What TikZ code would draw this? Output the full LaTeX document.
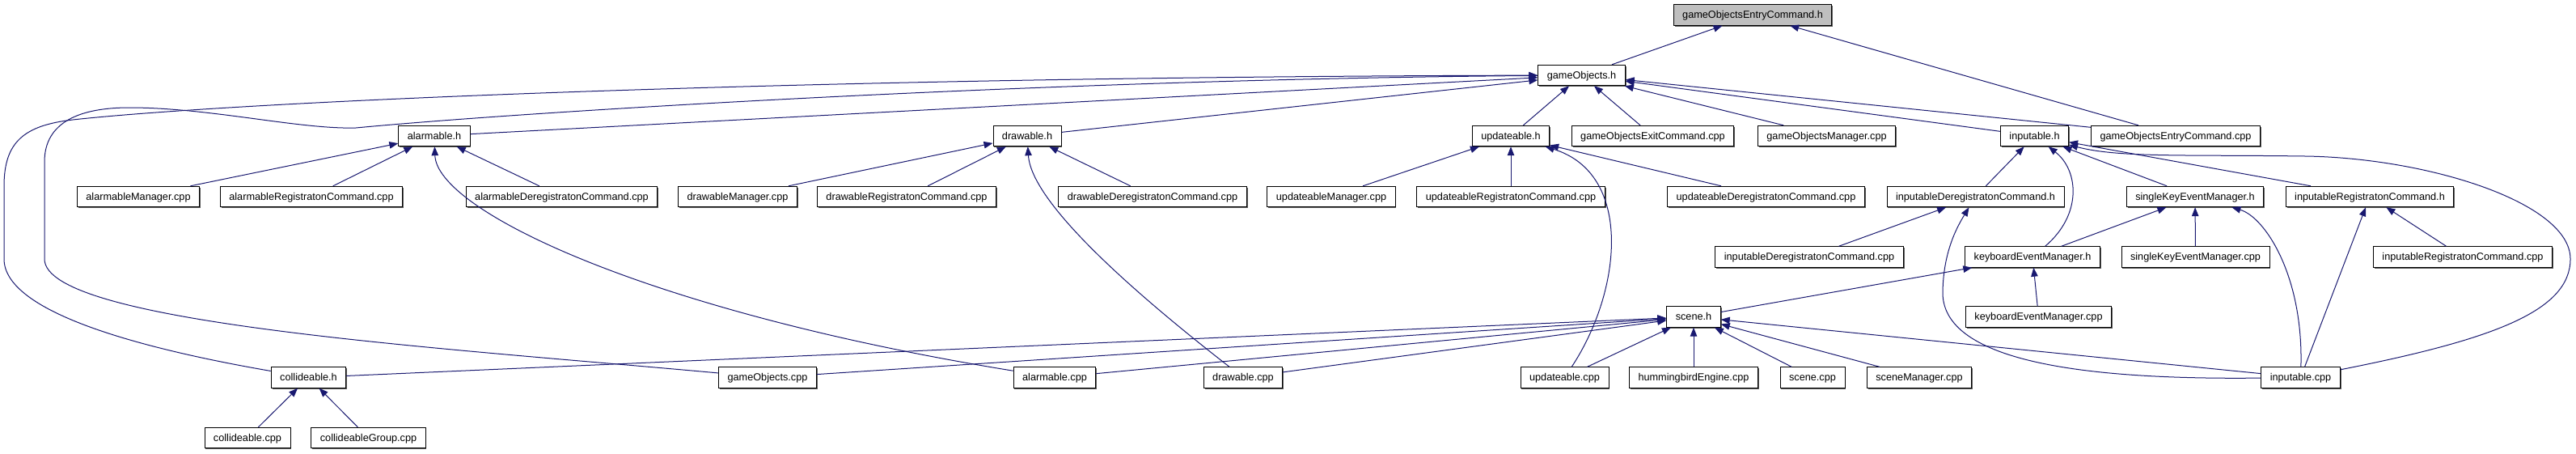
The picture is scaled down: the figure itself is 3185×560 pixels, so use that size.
\documentclass[tikz,border=0pt]{standalone}
\usepackage{fontspec}
\setmainfont{Liberation Sans}
\usepackage{tikz}
\usetikzlibrary{positioning, arrows.meta, shadows}
\definecolor{edgeblue}{RGB}{25,25,112}
\definecolor{rootgray}{RGB}{191,191,191}

\begin{document}
\begin{tikzpicture}[
            x=1pt, y=-1pt,
            file/.style={rectangle, draw=black, fill=white, line width=0.9pt, minimum height=25.5pt, inner xsep=11pt, inner ysep=0pt, text height=9pt, text depth=0.5pt, font=\fontsize{12.7}{15}\selectfont, drop shadow={shadow xshift=1.3pt, shadow yshift=-1.3pt, fill=black!65, opacity=1}},
            root/.style={file, fill=rootgray},
            edge/.style={draw=edgeblue, line width=1pt, -{Triangle[length=11pt, width=8.5pt]}}
        ]
        \useasboundingbox (0,0) rectangle (3185,560);
        % Root file
        \node[root] (goEntryH) at (2167,18.5) {gameObjectsEntryCommand.h};
        % Level 1
        \node[file] (goH) at (1955.5,93) {gameObjects.h};
        % Level 2
        \node[file] (alarmH) at (537,168) {alarmable.h};
        \node[file] (drawH) at (1270,168) {drawable.h};
        \node[file] (updH) at (1868,168) {updateable.h};
        \node[file] (goExitCpp) at (2043.5,168) {gameObjectsExitCommand.cpp};
        \node[file] (goMgrCpp) at (2258.5,168) {gameObjectsManager.cpp};
        \node[file] (inpH) at (2515.5,168) {inputable.h};
        \node[file] (goEntryCpp) at (2690,168) {gameObjectsEntryCommand.cpp};
        % Level 3
        \node[file] (alarmMgrCpp) at (171,243) {alarmableManager.cpp};
        \node[file] (alarmRegCpp) at (385,243) {alarmableRegistratonCommand.cpp};
        \node[file] (alarmDeregCpp) at (694.5,243) {alarmableDeregistratonCommand.cpp};
        \node[file] (drawMgrCpp) at (912,243) {drawableManager.cpp};
        \node[file] (drawRegCpp) at (1121,243) {drawableRegistratonCommand.cpp};
        \node[file] (drawDeregCpp) at (1425,243) {drawableDeregistratonCommand.cpp};
        \node[file] (updMgrCpp) at (1646,243) {updateableManager.cpp};
        \node[file] (updRegCpp) at (1868,243) {updateableRegistratonCommand.cpp};
        \node[file] (updDeregCpp) at (2183.5,243) {updateableDeregistratonCommand.cpp};
        \node[file] (inpDeregH) at (2442.5,243) {inputableDeregistratonCommand.h};
        \node[file] (skemH) at (2714,243) {singleKeyEventManager.h};
        \node[file] (inpRegH) at (2930,243) {inputableRegistratonCommand.h};
        % Level 4
        \node[file] (inpDeregCpp) at (2237,317.5) {inputableDeregistratonCommand.cpp};
        \node[file] (kemH) at (2513,317.5) {keyboardEventManager.h};
        \node[file] (skemCpp) at (2714.5,317.5) {singleKeyEventManager.cpp};
        \node[file] (inpRegCpp) at (3045,317.5) {inputableRegistratonCommand.cpp};
        % Level 5
        \node[file] (sceneH) at (2094,391.5) {scene.h};
        \node[file] (kemCpp) at (2520.5,391.5) {keyboardEventManager.cpp};
        % Level 6
        \node[file] (collH) at (381.5,466.5) {collideable.h};
        \node[file] (goCpp) at (949,466.5) {gameObjects.cpp};
        \node[file] (alarmCpp) at (1304,466.5) {alarmable.cpp};
        \node[file] (drawCpp) at (1537,466.5) {drawable.cpp};
        \node[file] (updCpp) at (1934.5,466.5) {updateable.cpp};
        \node[file] (hbeCpp) at (2094,466.5) {hummingbirdEngine.cpp};
        \node[file] (sceneCpp) at (2241,466.5) {scene.cpp};
        \node[file] (sceneMgrCpp) at (2373,466.5) {sceneManager.cpp};
        \node[file] (inpCpp) at (2844.5,466.5) {inputable.cpp};
        % Level 7
        \node[file] (collCpp) at (306,541) {collideable.cpp};
        \node[file] (collGrpCpp) at (455.5,541) {collideableGroup.cpp};
        % Includes of gameObjectsEntryCommand.h
        \draw[edge] (goH) -- (goEntryH);
        \draw[edge] (goEntryCpp) -- (goEntryH);
        % Includes of gameObjects.h
        \draw[edge] (alarmH) -- (goH);
        \draw[edge] (drawH) -- (goH);
        \draw[edge] (updH) -- (goH);
        \draw[edge] (goExitCpp) -- (goH);
        \draw[edge] (goMgrCpp) -- (goH);
        \draw[edge] (inpH) -- (goH);
        \draw[edge] (goEntryCpp) -- (goH);
        \draw[edge] (collH) .. controls (170,430) and (5,385) .. (5,320) -- (5,230) .. controls (5,175) and (30,155) .. (90,148) .. controls (300,125) and (1000,95) .. (goH);
        \draw[edge] (goCpp) .. controls (550,430) and (55,400) .. (55,320) -- (55,200) .. controls (55,150) and (100,133) .. (160,133) .. controls (260,133) and (370,160) .. (440,158) .. controls (650,138) and (1300,98) .. (goH);
        % Includes of alarmable.h
        \draw[edge] (alarmMgrCpp) -- (alarmH);
        \draw[edge] (alarmRegCpp) -- (alarmH);
        \draw[edge] (alarmDeregCpp) -- (alarmH);
        \draw[edge] (alarmCpp) .. controls (800,385) and (540,260) .. (alarmH);
        % Includes of drawable.h
        \draw[edge] (drawMgrCpp) -- (drawH);
        \draw[edge] (drawRegCpp) -- (drawH);
        \draw[edge] (drawDeregCpp) -- (drawH);
        \draw[edge] (drawCpp) .. controls (1400,360) and (1275,250) .. (drawH);
        % Includes of updateable.h
        \draw[edge] (updMgrCpp) -- (updH);
        \draw[edge] (updRegCpp) -- (updH);
        \draw[edge] (updDeregCpp) -- (updH);
        \draw[edge] (updCpp) .. controls (2005,360) and (2020,215) .. (updH);
        % Includes of inputable.h
        \draw[edge] (inpDeregH) -- (inpH);
        \draw[edge] (skemH) -- (inpH);
        \draw[edge] (inpRegH) -- (inpH);
        \draw[edge] (kemH) .. controls (2575,265) and (2570,210) .. (inpH);
        \draw[edge] (inpCpp) .. controls (3080,420) and (3178,385) .. (3178,320) .. controls (3178,250) and (3000,195) .. (2850,193) .. controls (2700,191) and (2620,195) .. (inpH);
        % Includes of the command and manager headers
        \draw[edge] (inpDeregCpp) -- (inpDeregH);
        \draw[edge] (inpCpp) .. controls (2550,470) and (2400,440) .. (2402,360) .. controls (2403,310) and (2420,280) .. (inpDeregH);
        \draw[edge] (kemH) -- (skemH);
        \draw[edge] (skemCpp) -- (skemH);
        \draw[edge] (inpCpp) .. controls (2848,340) and (2800,268) .. (skemH);
        \draw[edge] (inpRegCpp) -- (inpRegH);
        \draw[edge] (inpCpp) -- (inpRegH);
        \draw[edge] (kemCpp) -- (kemH);
        \draw[edge] (sceneH) -- (kemH);
        % Includes of scene.h
        \draw[edge] (collH) -- (sceneH);
        \draw[edge] (goCpp) -- (sceneH);
        \draw[edge] (alarmCpp) -- (sceneH);
        \draw[edge] (drawCpp) -- (sceneH);
        \draw[edge] (updCpp) -- (sceneH);
        \draw[edge] (hbeCpp) -- (sceneH);
        \draw[edge] (sceneCpp) -- (sceneH);
        \draw[edge] (sceneMgrCpp) -- (sceneH);
        \draw[edge] (inpCpp) -- (sceneH);
        % Includes of collideable.h
        \draw[edge] (collCpp) -- (collH);
        \draw[edge] (collGrpCpp) -- (collH);
\end{tikzpicture}
\end{document}
